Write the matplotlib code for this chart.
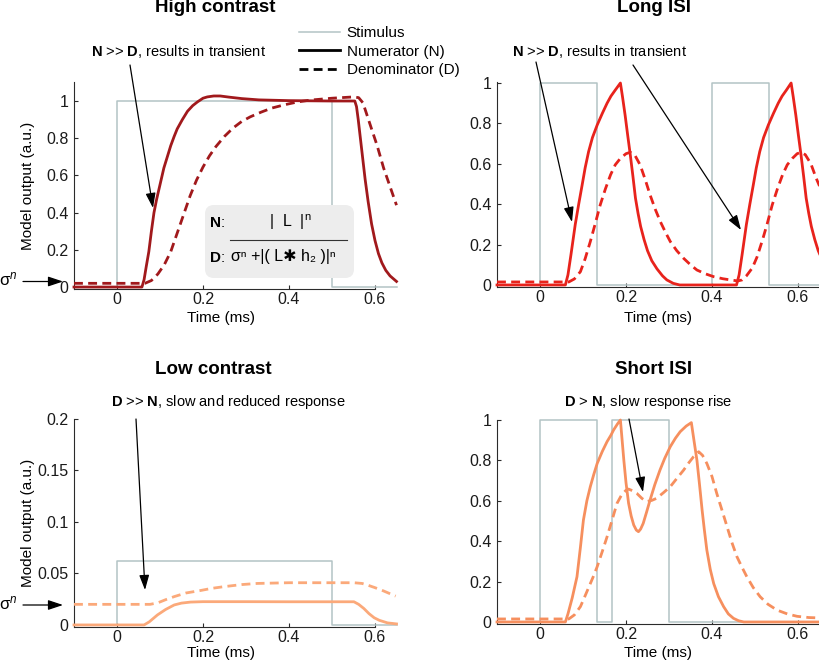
import matplotlib
matplotlib.use("Agg")
import matplotlib.pyplot as plt
from matplotlib.lines import Line2D
from matplotlib.patches import FancyBboxPatch, FancyArrowPatch
from matplotlib.transforms import IdentityTransform

plt.rcParams['font.family'] = ['Liberation Sans', 'DejaVu Sans']
plt.rcParams['mathtext.fontset'] = 'custom'
plt.rcParams['mathtext.rm'] = 'Liberation Sans'
plt.rcParams['mathtext.it'] = 'Liberation Sans:italic'
plt.rcParams['mathtext.bf'] = 'Liberation Sans:bold'

# ---------------- data ----------------
# High contrast
hc_stim_t = [-0.1, 0, 0, 0.5, 0.5, 0.65]
hc_stim_y = [0, 0, 1, 1, 0, 0]
hc_num_t = [-0.1, 0.058, 0.063, 0.068, 0.074, 0.08, 0.086, 0.092, 0.098, 0.104, 0.109, 0.117,
            0.125, 0.133, 0.14, 0.152, 0.164, 0.176, 0.187, 0.2, 0.21, 0.225, 0.24, 0.26, 0.29,
            0.33, 0.4, 0.5, 0.553, 0.557, 0.561, 0.566, 0.571, 0.577, 0.584, 0.592, 0.6, 0.608,
            0.616, 0.625, 0.635, 0.645, 0.65]
hc_num_y = [0, 0, 0.04, 0.11, 0.19, 0.3, 0.4, 0.47, 0.53, 0.59, 0.64, 0.7,
            0.76, 0.81, 0.85, 0.9, 0.945, 0.975, 0.995, 1.015, 1.022, 1.027, 1.027, 1.021, 1.013,
            1.006, 1.002, 1.0, 1.0, 0.97, 0.9, 0.8, 0.7, 0.58, 0.46, 0.34, 0.25, 0.18,
            0.13, 0.09, 0.06, 0.04, 0.03]
hc_den_t = [-0.1, 0.065, 0.08, 0.095, 0.11, 0.125, 0.14, 0.155, 0.17, 0.185, 0.2, 0.215, 0.23,
            0.25, 0.27, 0.29, 0.31, 0.335, 0.36, 0.39, 0.42, 0.45, 0.5, 0.55, 0.562, 0.572,
            0.582, 0.592, 0.605, 0.62, 0.635, 0.65]
hc_den_y = [0.02, 0.02, 0.035, 0.07, 0.12, 0.19, 0.29, 0.39, 0.49, 0.575, 0.645, 0.705, 0.755,
            0.81, 0.855, 0.89, 0.915, 0.94, 0.962, 0.98, 0.995, 1.005, 1.015, 1.022, 1.018, 0.99,
            0.92, 0.85, 0.76, 0.64, 0.54, 0.44]

# Long ISI
li_stim_t = [-0.1, 0, 0, 0.133, 0.133, 0.4, 0.4, 0.533, 0.533, 0.65]
li_stim_y = [0, 0, 1, 1, 0, 0, 1, 1, 0, 0]
li_num_t = [-0.1, 0.059, 0.065, 0.072, 0.082, 0.09, 0.098, 0.105, 0.113, 0.122, 0.133, 0.145,
            0.156, 0.165, 0.175, 0.187, 0.192, 0.198, 0.204, 0.21, 0.216, 0.222, 0.228, 0.234,
            0.242, 0.25, 0.26, 0.272, 0.285, 0.295, 0.31, 0.325, 0.457, 0.463, 0.47, 0.48,
            0.488, 0.496, 0.503, 0.511, 0.52, 0.531, 0.543, 0.554, 0.563, 0.573, 0.584, 0.589,
            0.595, 0.601, 0.607, 0.613, 0.619, 0.625, 0.631, 0.639, 0.647, 0.65]
li_num_y = [0, 0, 0.05, 0.15, 0.3, 0.4, 0.495, 0.58, 0.66, 0.73, 0.792, 0.85,
            0.9, 0.935, 0.965, 1.0, 0.93, 0.84, 0.74, 0.644, 0.54, 0.43, 0.355, 0.29,
            0.225, 0.17, 0.12, 0.08, 0.045, 0.025, 0.008, 0, 0, 0.05, 0.15, 0.3,
            0.4, 0.495, 0.58, 0.66, 0.73, 0.792, 0.85, 0.9, 0.935, 0.965, 1.0, 0.93,
            0.84, 0.74, 0.644, 0.54, 0.43, 0.355, 0.29, 0.225, 0.17, 0.155]
li_den_t = [-0.1, 0.067, 0.08, 0.094, 0.105, 0.117, 0.128, 0.14, 0.152, 0.164, 0.175, 0.187,
            0.2, 0.21, 0.22, 0.233, 0.245, 0.256, 0.268, 0.28, 0.292, 0.303, 0.318, 0.334,
            0.35, 0.365, 0.385, 0.404, 0.425, 0.443, 0.46, 0.47, 0.48, 0.494, 0.505, 0.517,
            0.528, 0.54, 0.552, 0.564, 0.575, 0.587, 0.598, 0.607, 0.617, 0.63, 0.642, 0.65]
li_den_y = [0.015, 0.015, 0.03, 0.066, 0.13, 0.215, 0.3, 0.396, 0.475, 0.545, 0.595, 0.627,
            0.65, 0.657, 0.645, 0.594, 0.52, 0.446, 0.375, 0.313, 0.26, 0.215, 0.17, 0.132,
            0.1, 0.074, 0.055, 0.041, 0.031, 0.025, 0.02, 0.025, 0.045, 0.085, 0.14, 0.22,
            0.3, 0.396, 0.475, 0.545, 0.595, 0.627, 0.65, 0.657, 0.645, 0.6, 0.53, 0.49]

# Low contrast
lc_stim_t = [-0.1, 0, 0, 0.5, 0.5, 0.65]
lc_stim_y = [0, 0, 0.0625, 0.0625, 0, 0]
lc_num_t = [-0.1, 0.063, 0.075, 0.094, 0.113, 0.133, 0.15, 0.171, 0.2, 0.3, 0.4, 0.551,
            0.562, 0.574, 0.586, 0.598, 0.61, 0.629, 0.65]
lc_num_y = [0, 0, 0.003, 0.0097, 0.015, 0.0194, 0.0212, 0.0222, 0.0226, 0.0226, 0.0225, 0.0225,
            0.02, 0.016, 0.011, 0.007, 0.0045, 0.002, 0.001]
lc_den_t = [-0.1, 0.077, 0.095, 0.113, 0.133, 0.16, 0.195, 0.22, 0.249, 0.29, 0.326, 0.4,
            0.551, 0.57, 0.582, 0.6, 0.62, 0.648]
lc_den_y = [0.02, 0.02, 0.0215, 0.0245, 0.0275, 0.031, 0.0335, 0.0355, 0.0372, 0.0392, 0.0403,
            0.041, 0.041, 0.0403, 0.0388, 0.0362, 0.033, 0.028]

# Short ISI
si_stim_t = [-0.1, 0, 0, 0.133, 0.133, 0.167, 0.167, 0.3, 0.3, 0.65]
si_stim_y = [0, 0, 1, 1, 0, 0, 1, 1, 0, 0]
si_num_t = [-0.1, 0.059, 0.065, 0.075, 0.086, 0.094, 0.101, 0.109, 0.117, 0.125, 0.133, 0.145,
            0.156, 0.165, 0.171, 0.18, 0.187, 0.191, 0.195, 0.2, 0.206, 0.212, 0.218, 0.224,
            0.229, 0.234, 0.24, 0.248, 0.256, 0.267, 0.279, 0.29, 0.303, 0.315, 0.326, 0.34,
            0.352, 0.358, 0.365, 0.371, 0.377, 0.382, 0.388, 0.396, 0.404, 0.415, 0.427, 0.438,
            0.45, 0.462, 0.474, 0.65]
si_num_y = [0, 0, 0.04, 0.12, 0.224, 0.37, 0.505, 0.6, 0.67, 0.73, 0.785, 0.845,
            0.893, 0.925, 0.95, 0.98, 1.0, 0.9, 0.8, 0.69, 0.588, 0.525, 0.48, 0.455,
            0.447, 0.46, 0.488, 0.545, 0.604, 0.68, 0.752, 0.81, 0.868, 0.91, 0.942, 0.97,
            0.987, 0.9, 0.8, 0.68, 0.554, 0.46, 0.356, 0.26, 0.19, 0.125, 0.076, 0.04,
            0.018, 0.006, 0, 0]
si_den_t = [-0.1, 0.067, 0.08, 0.094, 0.105, 0.117, 0.125, 0.133, 0.145, 0.156, 0.167, 0.179,
            0.19, 0.2, 0.206, 0.215, 0.225, 0.237, 0.248, 0.26, 0.271, 0.287, 0.303, 0.318,
            0.334, 0.346, 0.357, 0.369, 0.378, 0.388, 0.4, 0.411, 0.423, 0.435, 0.446, 0.458,
            0.47, 0.481, 0.496, 0.512, 0.53, 0.551, 0.575, 0.598, 0.625, 0.65]
si_den_y = [0.015, 0.015, 0.035, 0.076, 0.13, 0.19, 0.23, 0.274, 0.35, 0.422, 0.5, 0.587,
            0.63, 0.652, 0.658, 0.65, 0.637, 0.612, 0.596, 0.602, 0.612, 0.64, 0.67, 0.71,
            0.752, 0.788, 0.818, 0.843, 0.825, 0.785, 0.72, 0.637, 0.555, 0.472, 0.395, 0.323,
            0.27, 0.224, 0.17, 0.125, 0.088, 0.059, 0.04, 0.028, 0.022, 0.02]

xticks = [0, 0.2, 0.4, 0.6]
yticks_main = [0, 0.2, 0.4, 0.6, 0.8, 1]
yticks_low = [0, 0.05, 0.1, 0.15, 0.2]

# ---------------- style ----------------
W, H = 820, 663
C_HC = '#A1191C'
C_LI = '#E8231C'
C_LC = '#FBA97A'
C_SI = '#F68F5E'
C_STIM = '#B3C3C5'
C_AX = '#2b2b2b'
LW = 2.0
DASH = (0, (3.2, 1.9))

fig = plt.figure(figsize=(W / 100, H / 100), dpi=100)


def P(x, y):
    return (x / W, 1 - y / H)


def make_ax(left, right, top, bottom):
    return fig.add_axes([left / W, 1 - bottom / H, (right - left) / W, (bottom - top) / H])


ax_hc = make_ax(74, 375, 82.4, 288.9)
ax_li = make_ax(497, 819.5, 82, 287)
ax_lc = make_ax(74, 375, 419, 627)
ax_si = make_ax(497, 819.5, 420, 624)

panels = [
    (ax_hc, (-0.1, 0.6), (-0.01, 1.1), yticks_main, C_HC, hc_stim_t, hc_stim_y, hc_num_t, hc_num_y, hc_den_t, hc_den_y, True),
    (ax_li, (-0.1, 0.65), (-0.01, 1.005), yticks_main, C_LI, li_stim_t, li_stim_y, li_num_t, li_num_y, li_den_t, li_den_y, False),
    (ax_lc, (-0.1, 0.6), (-0.002, 0.2), yticks_low, C_LC, lc_stim_t, lc_stim_y, lc_num_t, lc_num_y, lc_den_t, lc_den_y, True),
    (ax_si, (-0.1, 0.65), (-0.01, 1.0), yticks_main, C_SI, si_stim_t, si_stim_y, si_num_t, si_num_y, si_den_t, si_den_y, False),
]

for ax, xl, yl, yt, col, st, sy, nt, ny, dt, dy, ylab in panels:
    ax.plot(st, sy, color=C_STIM, lw=1.1, clip_on=False, zorder=2)
    ax.plot(dt, dy, color=col, lw=LW, linestyle=DASH, clip_on=False, zorder=3)
    ax.plot(nt, ny, color=col, lw=LW, clip_on=False, zorder=4)
    ax.set_xlim(*xl)
    ax.set_ylim(*yl)
    ax.set_xticks(xticks)
    ax.set_xticklabels([f"{v:g}" for v in xticks])
    ax.set_yticks(yt)
    ax.set_yticklabels([f"{v:g}" for v in yt])
    for s in ['top', 'right']:
        ax.spines[s].set_visible(False)
    for s in ['left', 'bottom']:
        ax.spines[s].set_color(C_AX)
        ax.spines[s].set_linewidth(0.8)
    ax.tick_params(direction='in', length=3, width=0.8, color=C_AX, labelsize=11.5,
                   labelcolor='#1a1a1a')
    ax.tick_params(axis='x', pad=2.5)
    ax.tick_params(axis='y', pad=4)
    ax.patch.set_alpha(0)
    ax.set_xlabel('Time (ms)', fontsize=11, va='center')
    if ylab:
        ax.set_ylabel('Model output (a.u.)', fontsize=11, va='center')

# label positions (centres)
ax_hc.xaxis.set_label_coords(0.49, -0.141)
ax_li.xaxis.set_label_coords(0.5, -0.151)
ax_lc.xaxis.set_label_coords(0.49, -0.125)
ax_si.xaxis.set_label_coords(0.5, -0.142)
ax_hc.yaxis.set_label_coords(-0.153, 0.5)
ax_lc.yaxis.set_label_coords(-0.153, 0.5)

# titles
for txt, x, y in [('High contrast', 215, 8), ('Long ISI', 654, 8),
                  ('Low contrast', 213, 370), ('Short ISI', 654, 370)]:
    fig.text(*P(x, y), txt, fontsize=13.5, fontweight='bold', ha='center', va='center')

# legend
handles = [Line2D([], [], color=C_STIM, lw=1.1),
           Line2D([], [], color='black', lw=LW),
           Line2D([], [], color='black', lw=LW, linestyle=DASH)]
labels = ['Stimulus', 'Numerator (N)', 'Denominator (D)']
ax_hc.legend(handles, labels, loc='upper left', bbox_to_anchor=P(299, 26),
             bbox_transform=fig.transFigure, frameon=False, fontsize=11,
             handlelength=2.68, handletextpad=0.45, labelspacing=0.3,
             borderpad=0, borderaxespad=0)

# annotations
arrow_kw = dict(arrowstyle='-|>,head_length=0.9,head_width=0.3', color='black', lw=0.9,
                shrinkA=0, shrinkB=0, mutation_scale=10)
ann_fs = 10.5
fig.text(*P(91, 52), r'$\mathbf{N}$ >> $\mathbf{D}$, results in transient', fontsize=ann_fs, va='center')
fig.text(*P(512, 52), r'$\mathbf{N}$ >> $\mathbf{D}$, results in transient', fontsize=ann_fs, va='center')
fig.text(*P(111, 402), r'$\mathbf{D}$ >> $\mathbf{N}$, slow and reduced response', fontsize=ann_fs, va='center')
fig.text(*P(564, 402), r'$\mathbf{D}$ > $\mathbf{N}$, slow response rise', fontsize=ann_fs, va='center')

for (x0, y0), (x1, y1) in [((130, 65), (153, 208)), ((536, 62), (572, 222)),
                           ((633, 65), (741, 230)), ((136, 419), (145, 590)),
                           ((629, 419), (643, 492))]:
    fig.add_artist(FancyArrowPatch(P(x0, y0), P(x1, y1), transform=fig.transFigure, **arrow_kw))

# sigma^n markers
for y in (281.5, 605):
    fig.add_artist(FancyArrowPatch(P(23, y), P(63, y), transform=fig.transFigure, **arrow_kw))
    fig.text(*P(-1, y - 2), r'σ$^{n}$', fontsize=12, va='center', ha='left')

# formula box
box = FancyBboxPatch((205, H - 278), 149, 73, boxstyle='round,pad=0,rounding_size=9',
                     transform=IdentityTransform(), facecolor='#EDEDED', edgecolor='none', zorder=5)
fig.add_artist(box)
fig.text(*P(209, 223), r'$\mathbf{N}$:', fontsize=11, va='center', zorder=6)
fig.text(*P(290, 222), r'|  L  |$^{\mathrm{n}}$', fontsize=11.5, va='center', ha='center', zorder=6)
fig.add_artist(Line2D([230 / W, 347 / W], [1 - 240 / H, 1 - 240 / H], transform=fig.transFigure,
                      color='#333333', lw=0.8, zorder=6))
fig.text(*P(209, 258), r'$\mathbf{D}$:', fontsize=11, va='center', zorder=6)
fig.text(*P(231, 257), 'σⁿ +|( L✱ h₂ )|ⁿ', fontsize=11.5, va='center', ha='left', zorder=6)

fig.savefig('out.png', dpi=100)
